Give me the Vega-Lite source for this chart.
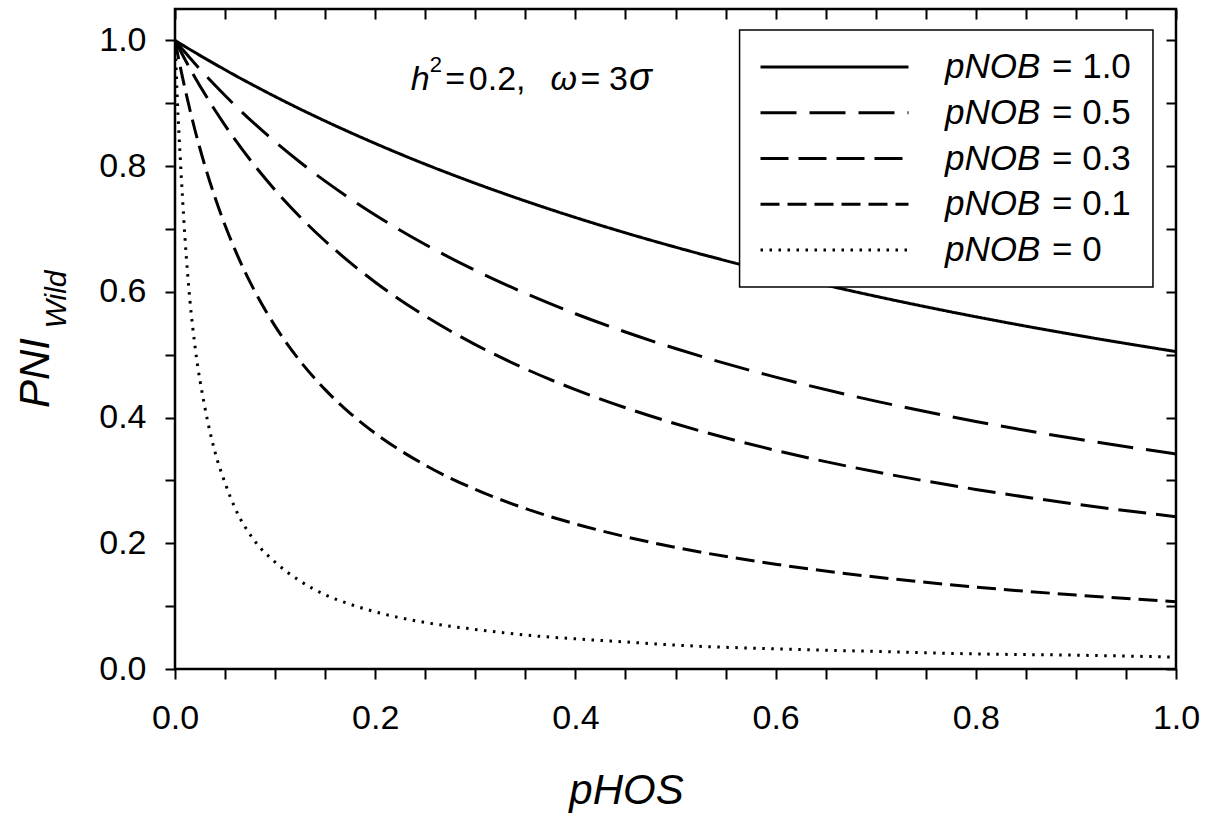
{
  "$schema": "https://vega.github.io/schema/vega-lite/v6.json",
  "width": 1001,
  "height": 660,
  "autosize": {"type": "none"},
  "padding": {"left": 175, "top": 9, "right": 32, "bottom": 144},
  "background": "white",
  "config": {
    "font": "Liberation Sans",
    "view": {"stroke": "black", "strokeWidth": 2.5},
    "axis": {"domain": false, "grid": false, "tickColor": "black", "tickWidth": 2, "labelColor": "black", "titleColor": "black", "labelFont": "Liberation Sans", "titleFont": "Liberation Sans", "titleFontWeight": "normal"},
    "legend": {"labelFont": "Liberation Sans", "labelColor": "black"},
    "text": {"font": "Liberation Sans", "color": "black"}
  },
  "datasets": {
    "curves": [
      {"pHOS": 0, "p10": 1, "p05": 1, "p03": 1, "p01": 1, "p00": 1},
      {"pHOS": 0.0025, "p10": 0.9976, "p05": 0.9952, "p03": 0.9922, "p01": 0.9796, "p00": 0.9},
      {"pHOS": 0.005, "p10": 0.9951, "p05": 0.9905, "p03": 0.9846, "p01": 0.96, "p00": 0.82},
      {"pHOS": 0.0075, "p10": 0.9927, "p05": 0.9858, "p03": 0.9771, "p01": 0.9412, "p00": 0.75},
      {"pHOS": 0.01, "p10": 0.9903, "p05": 0.9811, "p03": 0.9697, "p01": 0.9231, "p00": 0.685},
      {"pHOS": 0.015, "p10": 0.9855, "p05": 0.972, "p03": 0.9552, "p01": 0.8889, "p00": 0.585},
      {"pHOS": 0.02, "p10": 0.9808, "p05": 0.963, "p03": 0.9412, "p01": 0.8571, "p00": 0.513},
      {"pHOS": 0.03, "p10": 0.9714, "p05": 0.9455, "p03": 0.9143, "p01": 0.8, "p00": 0.415},
      {"pHOS": 0.04, "p10": 0.9623, "p05": 0.9286, "p03": 0.8889, "p01": 0.75, "p00": 0.345},
      {"pHOS": 0.05, "p10": 0.9533, "p05": 0.9123, "p03": 0.8649, "p01": 0.7059, "p00": 0.296},
      {"pHOS": 0.06, "p10": 0.9444, "p05": 0.8966, "p03": 0.8421, "p01": 0.6667, "p00": 0.256},
      {"pHOS": 0.08, "p10": 0.9273, "p05": 0.8667, "p03": 0.8, "p01": 0.6, "p00": 0.203},
      {"pHOS": 0.1, "p10": 0.9107, "p05": 0.8387, "p03": 0.7619, "p01": 0.5455, "p00": 0.17},
      {"pHOS": 0.125, "p10": 0.8908, "p05": 0.8062, "p03": 0.7191, "p01": 0.4898, "p00": 0.14},
      {"pHOS": 0.15, "p10": 0.8718, "p05": 0.7761, "p03": 0.6809, "p01": 0.4444, "p00": 0.118},
      {"pHOS": 0.175, "p10": 0.8536, "p05": 0.7482, "p03": 0.6465, "p01": 0.4068, "p00": 0.103},
      {"pHOS": 0.2, "p10": 0.8361, "p05": 0.7222, "p03": 0.6154, "p01": 0.375, "p00": 0.091},
      {"pHOS": 0.25, "p10": 0.8031, "p05": 0.6753, "p03": 0.5614, "p01": 0.3243, "p00": 0.074},
      {"pHOS": 0.3, "p10": 0.7727, "p05": 0.6341, "p03": 0.5161, "p01": 0.2857, "p00": 0.063},
      {"pHOS": 0.35, "p10": 0.7445, "p05": 0.5977, "p03": 0.4776, "p01": 0.2553, "p00": 0.054},
      {"pHOS": 0.4, "p10": 0.7183, "p05": 0.5652, "p03": 0.4444, "p01": 0.2308, "p00": 0.048},
      {"pHOS": 0.45, "p10": 0.6939, "p05": 0.5361, "p03": 0.4156, "p01": 0.2105, "p00": 0.043},
      {"pHOS": 0.5, "p10": 0.6711, "p05": 0.5098, "p03": 0.3902, "p01": 0.1935, "p00": 0.038},
      {"pHOS": 0.6, "p10": 0.6296, "p05": 0.4643, "p03": 0.3478, "p01": 0.1667, "p00": 0.032},
      {"pHOS": 0.7, "p10": 0.593, "p05": 0.4262, "p03": 0.3137, "p01": 0.1463, "p00": 0.028},
      {"pHOS": 0.8, "p10": 0.5604, "p05": 0.3939, "p03": 0.2857, "p01": 0.1304, "p00": 0.024},
      {"pHOS": 0.9, "p10": 0.5313, "p05": 0.3662, "p03": 0.2623, "p01": 0.1176, "p00": 0.022},
      {"pHOS": 1.0, "p10": 0.505, "p05": 0.3421, "p03": 0.2424, "p01": 0.1071, "p00": 0.019}
    ],
    "legendValues": [
      {"entry": "e10"}, {"entry": "e05"}, {"entry": "e03"}, {"entry": "e01"}, {"entry": "e00"}
    ]
  },
  "layer": [
    {
      "data": {"name": "curves"},
      "transform": [{"fold": ["p10", "p05", "p03", "p01", "p00"], "as": ["series", "PNI"]}],
      "mark": {"type": "line", "color": "black", "strokeWidth": 3, "interpolate": "monotone", "clip": true},
      "encoding": {
        "x": {
          "field": "pHOS", "type": "quantitative",
          "scale": {"domain": [0, 1], "nice": false, "zero": false},
          "axis": {
            "orient": "bottom",
            "values": [0, 0.05, 0.1, 0.15, 0.2, 0.25, 0.3, 0.35, 0.4, 0.45, 0.5, 0.55, 0.6, 0.65, 0.7, 0.75, 0.8, 0.85, 0.9, 0.95, 1.0],
            "labelExpr": "round(datum.value*20) % 4 == 0 ? format(datum.value, '.1f') : ''",
            "tickSize": 10, "labelPadding": 22, "labelFontSize": 34, "labelFlush": false, "labelOverlap": false,
            "title": "pHOS", "titleFontSize": 42, "titleFontStyle": "italic",
            "titleX": 451, "titleY": 134, "titleAlign": "center", "titleBaseline": "alphabetic", "titleAngle": 0
          }
        },
        "y": {
          "field": "PNI", "type": "quantitative",
          "scale": {"domain": [0, 1.05], "nice": false, "zero": true},
          "axis": {
            "orient": "left",
            "values": [0, 0.1, 0.2, 0.3, 0.4, 0.5, 0.6, 0.7, 0.8, 0.9, 1.0],
            "labelExpr": "round(datum.value*10) % 2 == 0 ? format(datum.value, '.1f') : ''",
            "tickSize": 10, "labelPadding": 19, "labelFontSize": 34, "labelOverlap": false,
            "title": "PNI", "titleFontSize": 42, "titleFontStyle": "italic",
            "titleX": -127, "titleY": 363.5, "titleAngle": 270, "titleAlign": "center", "titleBaseline": "alphabetic"
          }
        },
        "strokeDash": {
          "field": "series", "type": "nominal",
          "scale": {"domain": ["p10", "p05", "p03", "p01", "p00"], "range": [[1, 0], [36, 13], [28, 10], [19, 8], [2.5, 6.5]]},
          "legend": {
            "orient": "none", "legendX": 564, "legendY": 21, "title": null,
            "symbolType": "stroke", "symbolSize": 21904, "symbolStrokeWidth": 3, "symbolStrokeColor": "black",
            "padding": 20, "clipHeight": 34,
            "labelFontSize": 35, "labelFontStyle": "italic", "labelOffset": 35, "rowPadding": 10.75, "labelLimit": 400,
            "labelExpr": "'pNOB'"
          }
        }
      }
    },
    {
      "data": {"name": "legendValues"},
      "mark": {"type": "point", "opacity": 0},
      "encoding": {
        "shape": {
          "field": "entry", "type": "nominal",
          "scale": {"domain": ["e10", "e05", "e03", "e01", "e00"]},
          "legend": {
            "orient": "none", "legendX": 842, "legendY": 41, "title": null,
            "padding": 0, "symbolSize": 1, "symbolStrokeWidth": 0, "symbolOpacity": 0, "clipHeight": 34,
            "labelFontSize": 35, "labelOffset": 0, "rowPadding": 10.75, "labelLimit": 400,
            "labelExpr": "'= ' + (datum.value == 'e10' ? '1.0' : datum.value == 'e05' ? '0.5' : datum.value == 'e03' ? '0.3' : datum.value == 'e01' ? '0.1' : '0')"
          }
        }
      }
    },
    {
      "data": {"values": [{}]},
      "mark": {"type": "rect", "fill": "white", "stroke": "black", "strokeWidth": 1.5},
      "encoding": {
        "x": {"datum": 0.564, "type": "quantitative", "axis": null},
        "x2": {"datum": 0.977},
        "y": {"datum": 1.0166, "type": "quantitative", "axis": null},
        "y2": {"datum": 0.6077}
      }
    },
    {
      "data": {"name": "curves"},
      "mark": {"type": "point", "opacity": 0},
      "encoding": {
        "x": {
          "field": "pHOS", "type": "quantitative",
          "axis": {"orient": "top", "values": [0, 0.05, 0.1, 0.15, 0.2, 0.25, 0.3, 0.35, 0.4, 0.45, 0.5, 0.55, 0.6, 0.65, 0.7, 0.75, 0.8, 0.85, 0.9, 0.95, 1.0], "labels": false, "tickSize": -10, "title": null}
        },
        "y": {
          "field": "p10", "type": "quantitative",
          "axis": {"orient": "right", "values": [0, 0.1, 0.2, 0.3, 0.4, 0.5, 0.6, 0.7, 0.8, 0.9, 1.0], "labels": false, "tickSize": -10, "title": null}
        }
      }
    },
    {
      "data": {"name": "curves"},
      "mark": {"type": "point", "opacity": 0},
      "encoding": {
        "x": {"field": "pHOS", "type": "quantitative", "axis": null},
        "y": {
          "field": "p05", "type": "quantitative",
          "axis": {"orient": "left", "ticks": false, "labels": false, "title": "Wild", "titleFontSize": 30, "titleFontStyle": "italic", "titleX": -110, "titleY": 290, "titleAngle": 270, "titleAlign": "center", "titleBaseline": "alphabetic"}
        }
      }
    },
    {
      "data": {"values": [{}]},
      "mark": {"type": "text", "text": "h", "fontSize": 34, "fontStyle": "italic", "align": "left", "baseline": "alphabetic"},
      "encoding": {"x": {"datum": 0.2355, "type": "quantitative", "axis": null}, "y": {"datum": 0.9204, "type": "quantitative", "axis": null}}
    },
    {
      "data": {"values": [{}]},
      "mark": {"type": "text", "text": "2", "fontSize": 22, "align": "left", "baseline": "alphabetic"},
      "encoding": {"x": {"datum": 0.2545, "type": "quantitative", "axis": null}, "y": {"datum": 0.949, "type": "quantitative", "axis": null}}
    },
    {
      "data": {"values": [{}]},
      "mark": {"type": "text", "text": "=", "fontSize": 34, "align": "left", "baseline": "alphabetic"},
      "encoding": {"x": {"datum": 0.27, "type": "quantitative", "axis": null}, "y": {"datum": 0.9204, "type": "quantitative", "axis": null}}
    },
    {
      "data": {"values": [{}]},
      "mark": {"type": "text", "text": "0.2,", "fontSize": 34, "align": "left", "baseline": "alphabetic"},
      "encoding": {"x": {"datum": 0.2935, "type": "quantitative", "axis": null}, "y": {"datum": 0.9204, "type": "quantitative", "axis": null}}
    },
    {
      "data": {"values": [{}]},
      "mark": {"type": "text", "text": "ω", "fontSize": 34, "fontStyle": "italic", "align": "left", "baseline": "alphabetic"},
      "encoding": {"x": {"datum": 0.375, "type": "quantitative", "axis": null}, "y": {"datum": 0.9204, "type": "quantitative", "axis": null}}
    },
    {
      "data": {"values": [{}]},
      "mark": {"type": "text", "text": "=", "fontSize": 34, "align": "left", "baseline": "alphabetic"},
      "encoding": {"x": {"datum": 0.405, "type": "quantitative", "axis": null}, "y": {"datum": 0.9204, "type": "quantitative", "axis": null}}
    },
    {
      "data": {"values": [{}]},
      "mark": {"type": "text", "text": "3", "fontSize": 34, "align": "left", "baseline": "alphabetic"},
      "encoding": {"x": {"datum": 0.4335, "type": "quantitative", "axis": null}, "y": {"datum": 0.9204, "type": "quantitative", "axis": null}}
    },
    {
      "data": {"values": [{}]},
      "mark": {"type": "text", "text": "σ", "fontSize": 38, "fontStyle": "italic", "align": "left", "baseline": "alphabetic"},
      "encoding": {"x": {"datum": 0.4535, "type": "quantitative", "axis": null}, "y": {"datum": 0.9204, "type": "quantitative", "axis": null}}
    }
  ],
  "resolve": {"axis": {"x": "independent", "y": "independent"}}
}
